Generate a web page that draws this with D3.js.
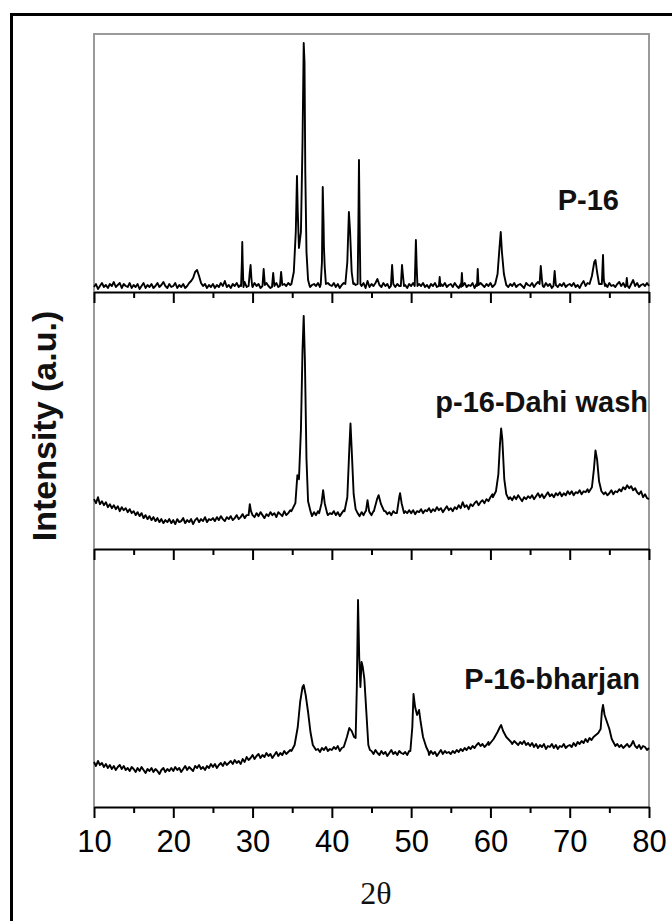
<!DOCTYPE html>
<html>
<head>
<meta charset="utf-8">
<script src="https://cdnjs.cloudflare.com/ajax/libs/d3/7.8.5/d3.min.js"></script>
<style>
  body { margin: 0; background: #fff; }
  svg { display: block; }
</style>
</head>
<body>
<svg id="chart"></svg>
<script>
// 2-theta grid for the baseline readings: 10..80 in 0.25 deg steps
var gridStart = 10, gridStep = 0.25;

// P-16 baseline (a.u.)
var p16Base = [
  5,8,3,6,9,5,7,4,8,6,10,5,7,9,4,8,6,5,9,4,
  7,5,8,3,6,9,4,7,5,8,4,6,9,5,7,10,6,4,8,5,
  6,9,4,7,5,8,4,6,9,11,14,20,22,16,9,6,8,4,7,5,
  8,4,7,5,9,6,11,5,7,4,8,6,9,5,7,6,10,5,8,6,
  5,9,6,8,4,7,5,9,6,4,8,6,9,5,7,4,8,6,9,7,
  8,6,9,5,7,4,8,6,9,5,7,8,6,9,5,8,6,4,9,7,
  6,9,5,8,4,7,9,5,8,6,4,9,7,5,8,6,9,4,11,5,
  8,6,9,13,7,5,9,6,8,4,7,9,5,8,6,9,5,7,4,8,
  6,9,5,7,8,6,9,5,7,4,8,6,9,5,7,8,6,9,5,7,
  8,5,9,6,4,8,6,9,5,7,6,9,4,8,6,9,7,5,8,6,
  9,5,7,6,8,4,9,6,7,5,8,6,9,5,7,8,6,4,9,7,
  6,9,5,8,10,6,7,5,9,6,8,4,7,9,5,8,6,9,5,7,
  8,6,9,5,7,4,8,11,6,9,5,7,8,6,9,5,7,6,8,5,
  9,6,7,5,8,10,6,9,5,7,4,8,12,6,9,5,7,8,6,9,
  6
];
var p16Peaks = [
  [[28.55,6],[28.65,30],[28.7,50],[28.75,30],[28.85,5]],
  [[29.5,6],[29.65,20],[29.75,27],[29.85,14],[29.95,6]],
  [[31.25,6],[31.4,23],[31.55,7]],
  [[32.45,5],[32.6,19],[32.75,6]],
  [[33.45,6],[33.6,20],[33.75,7]],
  [[34.9,8],[35.2,20],[35.45,60],[35.6,116],[35.7,80],[35.85,44],[36.1,60],[36.3,150],[36.45,249],[36.55,230],[36.65,120],[36.8,40],[37.0,12],[37.2,6]],
  [[38.6,8],[38.75,30],[38.85,105],[38.95,70],[39.0,45],[39.1,25],[39.25,8]],
  [[41.7,8],[41.95,30],[42.15,80],[42.3,60],[42.5,20],[42.7,8]],
  [[43.25,8],[43.35,70],[43.42,132],[43.5,70],[43.6,8]],
  [[47.45,6],[47.6,27],[47.75,8]],
  [[48.7,6],[48.85,27],[48.95,18],[49.1,6]],
  [[50.45,6],[50.6,52],[50.7,25],[50.8,6]],
  [[53.5,6],[53.6,15],[53.7,6]],
  [[56.3,5],[56.4,19],[56.5,6]],
  [[58.3,6],[58.4,23],[58.5,7]],
  [[60.6,8],[60.9,18],[61.15,45],[61.3,60],[61.45,40],[61.7,18],[62.0,7]],
  [[66.2,8],[66.35,26],[66.5,12],[66.6,6]],
  [[67.95,6],[68.1,21],[68.25,7]],
  [[72.5,8],[72.8,16],[73.1,30],[73.25,32],[73.45,20],[73.7,8],[74.05,8],[74.2,37],[74.3,12],[74.45,6]],
  [[77.1,6],[77.2,14],[77.3,6]]
];

// p-16-Dahi wash baseline
var dahiBase = [
  50,46,52,45,48,44,47,42,45,41,44,40,43,38,42,39,41,37,40,36,
  38,34,37,33,36,31,34,30,33,29,32,28,31,27,30,26,29,27,30,26,
  29,25,30,27,28,31,26,29,27,30,25,29,31,27,30,28,32,27,30,29,
  31,28,32,29,33,30,28,32,30,33,29,31,34,30,32,35,31,34,33,36,
  35,32,36,33,37,34,31,35,33,37,34,36,32,37,35,33,38,34,36,39,
  40,45,50,60,100,200,150,60,42,36,33,37,34,38,35,36,32,37,34,36,
  35,38,34,37,33,36,39,35,40,60,110,80,45,36,33,37,34,38,35,37,
  34,38,35,37,33,36,40,38,35,37,34,38,36,39,35,37,33,38,36,39,
  36,39,35,38,37,40,36,39,38,41,37,40,38,42,39,41,37,40,43,39,
  41,38,42,40,44,41,47,42,44,40,45,43,46,48,44,47,49,46,50,48,
  52,55,54,58,60,80,120,100,60,55,52,49,53,50,54,51,48,52,50,53,
  51,54,50,53,56,52,55,51,54,57,53,55,52,56,54,57,53,56,54,58,
  55,58,54,57,56,59,55,58,57,60,57,70,90,80,60,56,58,55,57,54,
  56,59,55,58,57,60,58,62,60,64,61,63,59,61,57,55,58,52,55,51,
  50
];
var dahiPeaks = [
  [[29.5,34],[29.65,45],[29.8,38],[30.0,34]],
  [[34.9,38],[35.4,46],[35.65,74],[35.85,70],[36.1,120],[36.3,200],[36.45,234],[36.6,190],[36.8,90],[37.0,48],[37.3,38]],
  [[38.4,36],[38.7,46],[38.9,59],[39.1,46],[39.4,36]],
  [[41.6,38],[41.95,52],[42.2,100],[42.35,126],[42.5,100],[42.75,55],[43.0,40]],
  [[44.3,38],[44.5,49],[44.7,38]],
  [[45.3,38],[45.7,50],[45.9,54],[46.2,45],[46.6,38]],
  [[48.2,36],[48.5,52],[48.6,56],[48.8,46],[49.1,36]],
  [[60.3,52],[60.7,58],[61.0,75],[61.2,105],[61.35,121],[61.5,110],[61.75,70],[62.0,55],[62.3,50]],
  [[72.4,57],[72.8,62],[73.05,80],[73.25,99],[73.45,90],[73.7,68],[74.0,58],[74.3,55]]
];

// P-16-bharjan baseline
var bharBase = [
  45,41,46,42,44,40,43,39,42,38,41,37,40,42,38,41,37,39,36,40,
  38,35,39,36,40,37,34,38,36,39,35,38,36,33,37,39,35,38,36,39,
  36,40,37,39,35,38,41,37,40,38,36,41,39,42,38,40,37,41,39,43,
  40,43,39,42,44,41,45,42,44,46,43,47,44,46,43,48,45,50,47,49,
  52,48,51,53,49,52,50,54,51,53,49,52,55,51,54,52,56,53,55,57,
  60,70,90,110,120,115,100,80,65,58,57,59,56,58,55,59,57,60,56,58,
  57,60,58,61,56,59,60,57,62,58,70,75,78,200,140,130,60,57,55,58,
  56,53,57,54,52,56,53,55,51,54,57,53,55,52,56,54,53,55,52,56,
  80,113,100,95,92,80,65,58,55,52,56,53,55,51,54,57,53,56,54,55,
  53,56,54,57,55,58,56,59,57,60,58,61,59,62,64,61,63,60,62,65,
  66,68,72,75,80,82,76,72,70,67,65,63,66,64,62,65,63,66,62,64,
  61,64,60,63,59,62,60,63,58,61,60,63,59,62,58,61,60,63,59,61,
  62,60,64,61,65,63,66,64,68,65,69,67,70,72,80,102,92,80,75,68,
  72,68,64,61,63,60,62,59,61,63,60,62,66,61,59,62,58,61,60,57,
  59
];
var bharPeaks = [
  [[34.9,56],[35.3,62],[35.7,80],[36.0,105],[36.3,120],[36.45,122],[36.7,112],[37.0,95],[37.3,75],[37.6,62],[38.0,57]],
  [[41.5,60],[41.9,70],[42.2,79],[42.5,76],[42.8,70],[43.0,69],[43.15,120],[43.3,207],[43.45,150],[43.6,120],[43.75,145],[43.9,140],[44.1,128],[44.35,95],[44.6,62],[44.8,57]],
  [[49.9,56],[50.15,80],[50.3,113],[50.5,100],[50.75,92],[51.0,97],[51.2,85],[51.5,70],[51.9,60],[52.2,55]],
  [[59.8,62],[60.4,68],[60.9,75],[61.2,80],[61.35,82],[61.6,76],[62.0,70],[62.6,65]],
  [[73.0,70],[73.6,74],[73.9,78],[74.05,95],[74.2,102],[74.4,92],[74.7,85],[75.0,78],[75.3,68],[75.7,62]]
];

var sampleNames = ["P-16", "p-16-Dahi wash", "P-16-bharjan"];
var majorTicks = [10, 20, 30, 40, 50, 60, 70, 80];
var minorTicks = [15, 25, 35, 45, 55, 65, 75];

function buildSeries(base, peaks) {
  var spans = peaks.map(function (p) { return [p[0][0], p[p.length - 1][0]]; });
  var pts = base.map(function (v, i) { return [gridStart + i * gridStep, v]; })
    .filter(function (d) {
      return !spans.some(function (s) { return d[0] >= s[0] && d[0] <= s[1]; });
    });
  peaks.forEach(function (p) { pts = pts.concat(p); });
  return pts.sort(function (a, b) { return a[0] - b[0]; });
}

var series = [
  buildSeries(p16Base, p16Peaks),
  buildSeries(dahiBase, dahiPeaks),
  buildSeries(bharBase, bharPeaks)
];

var width = 672, height = 921;
var left = 94, right = 649;
var panelEdges = [34, 292, 549, 807];

var svg = d3.select("#chart")
    .attr("width", width)
    .attr("height", height);

// outer frame (runs off the right and bottom of the picture)
svg.append("rect")
    .attr("x", 11.5).attr("y", 14.5)
    .attr("width", 700).attr("height", 950)
    .attr("fill", "none")
    .attr("stroke", "#000")
    .attr("stroke-width", 3);

var x = d3.scaleLinear().domain([10, 80]).range([left, right]);

// grey frame: top, left, right
svg.append("path")
    .attr("d", "M" + left + "," + panelEdges[3] + "V" + panelEdges[0] + "H" + right + "V" + panelEdges[3])
    .attr("fill", "none")
    .attr("stroke", "#9a9a9a")
    .attr("stroke-width", 2);

series.forEach(function (data, k) {
    var top = panelEdges[k], bottom = panelEdges[k + 1];
    var y = d3.scaleLinear().domain([0, 258]).range([bottom, top]);

    var line = d3.line()
        .x(function (d) { return x(d[0]); })
        .y(function (d) { return y(d[1]); });

    svg.append("path")
        .datum(data)
        .attr("fill", "none")
        .attr("stroke", "#000")
        .attr("stroke-width", 1.9)
        .attr("stroke-linejoin", "round")
        .attr("d", line);

    var axisG = svg.append("g")
        .attr("class", "xAxisG")
        .attr("transform", "translate(0," + bottom + ")")
        .call(d3.axisBottom(x).tickValues(majorTicks).tickSize(11).tickSizeOuter(0));

    axisG.select(".domain").attr("stroke-width", 2.2).attr("stroke", "#000");
    axisG.selectAll(".tick line").attr("stroke-width", 2).attr("stroke", "#000");
    axisG.selectAll(".tick text")
        .attr("y", 45).attr("dy", 0)
        .attr("fill", "#000")
        .style("font-family", "'Liberation Sans', Arial, sans-serif")
        .style("font-size", "31px")
        .style("display", k === 2 ? null : "none");

    var minorG = svg.append("g")
        .attr("transform", "translate(0," + bottom + ")")
        .call(d3.axisBottom(x).tickValues(minorTicks).tickSize(6).tickFormat(""));
    minorG.select(".domain").remove();
    minorG.selectAll(".tick line").attr("stroke-width", 2).attr("stroke", "#000");
});

// sample names
var labelPos = [[619, 210], [648, 412], [640, 689]];
sampleNames.forEach(function (name, k) {
    svg.append("text")
        .attr("x", labelPos[k][0])
        .attr("y", labelPos[k][1])
        .attr("text-anchor", "end")
        .style("font-family", "'Liberation Sans', Arial, sans-serif")
        .style("font-weight", "bold")
        .style("font-size", "29px")
        .attr("fill", "#111")
        .text(name);
});

// axis titles
svg.append("text")
    .attr("x", 376).attr("y", 904)
    .attr("text-anchor", "middle")
    .style("font-family", "'Liberation Serif', 'Times New Roman', serif")
    .style("font-size", "32px")
    .attr("fill", "#111")
    .text("2\u03b8");

svg.append("text")
    .attr("transform", "translate(56,426) rotate(-90)")
    .attr("text-anchor", "middle")
    .style("font-family", "'Liberation Sans', Arial, sans-serif")
    .style("font-weight", "bold")
    .style("font-size", "34px")
    .attr("fill", "#111")
    .text("Intensity (a.u.)");
</script>
</body>
</html>
